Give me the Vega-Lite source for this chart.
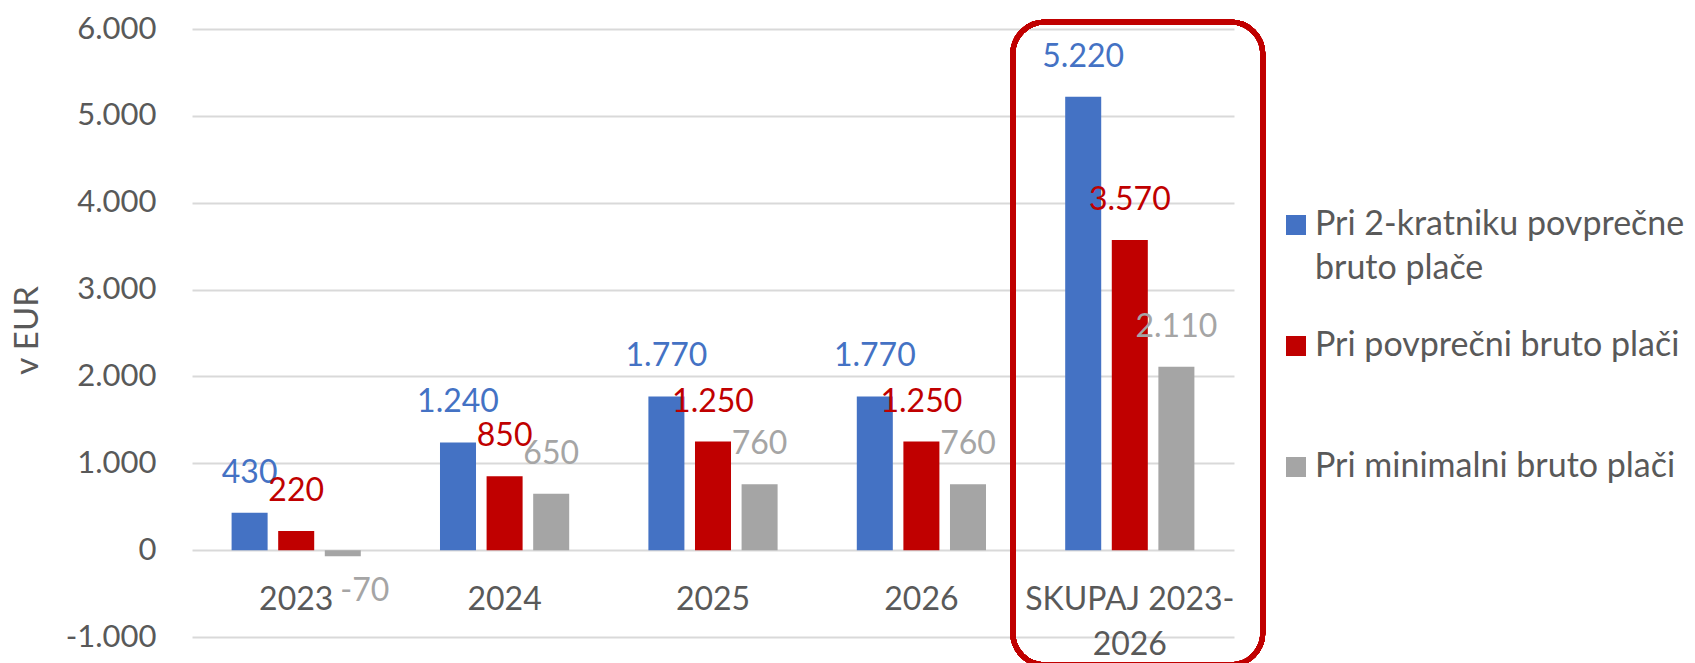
{
  "$schema": "https://vega.github.io/schema/vega-lite/v6.json",
  "width": 1042,
  "height": 608,
  "autosize": {"type": "none"},
  "padding": {"left": 192, "top": 29, "right": 461, "bottom": 26},
  "background": "white",
  "config": {
    "font": "Lato",
    "view": {"stroke": null},
    "locale": {"number": {"decimal": ",", "thousands": ".", "grouping": [3], "currency": ["", " €"], "minus": "-"}}
  },
  "data": {
    "values": [
      {"cat": "2023", "series": "Pri 2-kratniku povprečne bruto plače", "value": 430},
      {"cat": "2023", "series": "Pri povprečni bruto plači", "value": 220},
      {"cat": "2023", "series": "Pri minimalni bruto plači", "value": -70},
      {"cat": "2024", "series": "Pri 2-kratniku povprečne bruto plače", "value": 1240},
      {"cat": "2024", "series": "Pri povprečni bruto plači", "value": 850},
      {"cat": "2024", "series": "Pri minimalni bruto plači", "value": 650},
      {"cat": "2025", "series": "Pri 2-kratniku povprečne bruto plače", "value": 1770},
      {"cat": "2025", "series": "Pri povprečni bruto plači", "value": 1250},
      {"cat": "2025", "series": "Pri minimalni bruto plači", "value": 760},
      {"cat": "2026", "series": "Pri 2-kratniku povprečne bruto plače", "value": 1770},
      {"cat": "2026", "series": "Pri povprečni bruto plači", "value": 1250},
      {"cat": "2026", "series": "Pri minimalni bruto plači", "value": 760},
      {"cat": "SKUPAJ 2023-2026", "series": "Pri 2-kratniku povprečne bruto plače", "value": 5220},
      {"cat": "SKUPAJ 2023-2026", "series": "Pri povprečni bruto plači", "value": 3570},
      {"cat": "SKUPAJ 2023-2026", "series": "Pri minimalni bruto plači", "value": 2110}
    ]
  },
  "layer": [
    {
      "mark": {"type": "bar"},
      "encoding": {
        "x": {
          "field": "cat", "type": "nominal", "sort": null,
          "scale": {"paddingInner": 0.38, "paddingOuter": 0.19},
          "axis": {
            "title": null, "orient": "bottom", "offset": -53, "labelPadding": 0,
            "labelBaseline": "top", "labelAngle": 0, "labelFontSize": 32, "labelFont": "Lato",
            "labelColor": "#595959", "domain": false, "ticks": false, "grid": false,
            "labelLineHeight": 45, "labelLimit": 400, "labelOverlap": false,
            "labelExpr": "datum.value == 'SKUPAJ 2023-2026' ? ['SKUPAJ 2023-', '2026'] : datum.label"
          }
        },
        "xOffset": {
          "field": "series", "type": "nominal",
          "scale": {"domain": ["Pri 2-kratniku povprečne bruto plače", "Pri povprečni bruto plači", "Pri minimalni bruto plači"], "paddingInner": 0.227, "paddingOuter": 0}
        },
        "y": {
          "field": "value", "type": "quantitative",
          "scale": {"domain": [-1000, 6000], "nice": false, "zero": false},
          "axis": {
            "title": "v EUR", "values": [-1000, 0, 1000, 2000, 3000, 4000, 5000, 6000],
            "format": ",d", "labelFontSize": 31, "labelFont": "Lato", "labelColor": "#595959",
            "labelPadding": 36, "domain": false, "ticks": false, "grid": true,
            "gridColor": "#D9D9D9", "gridWidth": 2,
            "titleFontSize": 33, "titleFont": "Lato", "titleFontWeight": "normal", "titleColor": "#595959",
            "titleX": -165, "titleY": 301, "titleAngle": -90, "titleAlign": "center", "titleBaseline": "middle"
          }
        },
        "color": {
          "field": "series", "type": "nominal",
          "scale": {
            "domain": ["Pri 2-kratniku povprečne bruto plače", "Pri povprečni bruto plači", "Pri minimalni bruto plači"],
            "range": ["#4472C4", "#C00000", "#A5A5A5"]
          },
          "legend": {
            "title": null, "orient": "none", "legendX": 1087, "legendY": 179,
            "symbolType": "square", "symbolSize": 400, "symbolStrokeWidth": 0,
            "labelFontSize": 34, "labelColor": "#595959", "labelFont": "Lato", "labelLimit": 600,
            "labelOffset": 2, "rowPadding": 43, "gridAlign": "all", "padding": 0,
            "labelExpr": "datum.value == 'Pri 2-kratniku povprečne bruto plače' ? ['Pri 2-kratniku povprečne', 'bruto plače'] : datum.label",
            "encode": {"labels": {"update": {"lineHeight": {"value": 44}}}}
          }
        }
      }
    },
    {
      "transform": [{"filter": "datum.value >= 0"}],
      "mark": {"type": "text", "baseline": "middle", "dy": -40, "fontSize": 32, "font": "Lato"},
      "encoding": {
        "x": {"field": "cat", "type": "nominal", "sort": null},
        "xOffset": {"field": "series", "type": "nominal"},
        "y": {"field": "value", "type": "quantitative"},
        "text": {"field": "value", "type": "quantitative", "format": ",d"},
        "color": {"field": "series", "type": "nominal", "legend": null}
      }
    },
    {
      "transform": [{"filter": "datum.value < 0"}],
      "mark": {"type": "text", "baseline": "middle", "dy": 35, "dx": 22, "fontSize": 32, "font": "Lato"},
      "encoding": {
        "x": {"field": "cat", "type": "nominal", "sort": null},
        "xOffset": {"field": "series", "type": "nominal"},
        "y": {"field": "value", "type": "quantitative"},
        "text": {"field": "value", "type": "quantitative", "format": ",d"},
        "color": {"field": "series", "type": "nominal", "legend": null}
      }
    },
    {
      "mark": {"type": "rect", "fillOpacity": 0, "stroke": "#C00000", "strokeWidth": 5, "cornerRadius": 32, "width": {"band": 1.935}, "xOffset": 8, "clip": false},
      "encoding": {
        "x": {"datum": "SKUPAJ 2023-2026", "type": "nominal"},
        "y": {"datum": 6080, "type": "quantitative"},
        "y2": {"datum": -1320}
      }
    }
  ]
}
